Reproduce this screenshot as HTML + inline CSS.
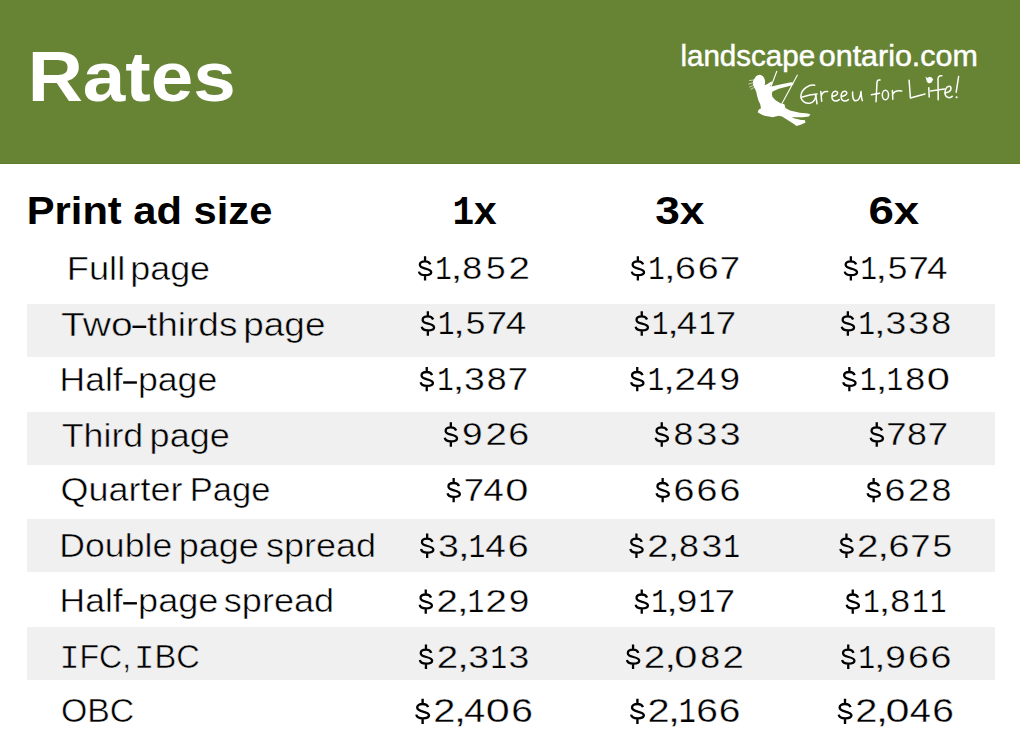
<!DOCTYPE html>
<html><head><meta charset="utf-8"><title>Rates</title>
<style>html,body{margin:0;padding:0;background:#fff;}svg{display:block;}
text{font-family:"Liberation Sans",sans-serif;}</style></head>
<body>
<svg width="1020" height="746" viewBox="0 0 1020 746">
<rect x="0" y="0" width="1020" height="746" fill="#ffffff"/>
<rect x="0" y="0" width="1020" height="164" fill="#678435"/>
<rect x="0" y="163" width="1020" height="1" fill="#5c7b2b"/>
<rect x="27" y="304" width="968" height="53" fill="#f0f0f0"/><rect x="27" y="412" width="968" height="53" fill="#f0f0f0"/><rect x="27" y="519" width="968" height="53" fill="#f0f0f0"/><rect x="27" y="627" width="968" height="53" fill="#f0f0f0"/>
<text transform="translate(27.65 100.90) scale(1.0852 1)" font-size="70.43" font-weight="bold" fill="#ffffff">Rates</text>
<text transform="translate(26.78 223.90) scale(1.0734 1)" font-size="38.84" font-weight="bold" fill="#000000">Print ad size</text>
<text transform="translate(452.48 223.90) scale(0.8852 1)" font-size="38.99" font-weight="bold" fill="#000000"><tspan font-family="Liberation Mono" font-size="1.045em">1</tspan></text>
<text transform="translate(473.89 223.90) scale(1.0450 1)" font-size="38.99" font-weight="bold" fill="#000000">x</text>
<text transform="translate(655.21 223.90) scale(1.1353 1)" font-size="38.99" font-weight="bold" fill="#000000">3x</text>
<text transform="translate(868.47 223.90) scale(1.1712 1)" font-size="38.99" font-weight="bold" fill="#000000">6x</text>
<text transform="translate(66.80 280.30) scale(1.1169 1)" font-size="32.46" font-weight="normal" stroke="#ffffff" stroke-width="0.5" fill="#000000">Full</text>
<text transform="translate(130.19 280.30) scale(1.1066 1)" font-size="32.46" font-weight="normal" stroke="#ffffff" stroke-width="0.5" fill="#000000">page</text>
<text transform="translate(61.12 335.50) scale(1.2026 1)" font-size="32.46" font-weight="normal" stroke="#f0f0f0" stroke-width="0.5" fill="#000000">Two</text>
<text transform="translate(146.96 335.50) scale(1.1406 1)" font-size="32.46" font-weight="normal" stroke="#f0f0f0" stroke-width="0.5" fill="#000000">thirds</text>
<text transform="translate(243.32 335.50) scale(1.1373 1)" font-size="32.46" font-weight="normal" stroke="#f0f0f0" stroke-width="0.5" fill="#000000">page</text>
<text transform="translate(59.56 391.20) scale(1.0926 1)" font-size="32.46" font-weight="normal" stroke="#ffffff" stroke-width="0.5" fill="#000000">Half</text>
<text transform="translate(137.90 391.20) scale(1.0993 1)" font-size="32.46" font-weight="normal" stroke="#ffffff" stroke-width="0.5" fill="#000000">page</text>
<text transform="translate(61.68 446.50) scale(1.1027 1)" font-size="32.46" font-weight="normal" stroke="#f0f0f0" stroke-width="0.5" fill="#000000">Third</text>
<text transform="translate(149.58 446.50) scale(1.1110 1)" font-size="32.46" font-weight="normal" stroke="#f0f0f0" stroke-width="0.5" fill="#000000">page</text>
<text transform="translate(60.60 501.30) scale(1.1087 1)" font-size="32.46" font-weight="normal" stroke="#ffffff" stroke-width="0.5" fill="#000000">Quarter</text>
<text transform="translate(189.74 501.30) scale(1.0635 1)" font-size="32.46" font-weight="normal" stroke="#ffffff" stroke-width="0.5" fill="#000000">Page</text>
<text transform="translate(59.35 557.00) scale(1.0974 1)" font-size="32.46" font-weight="normal" stroke="#f0f0f0" stroke-width="0.5" fill="#000000">Double</text>
<text transform="translate(178.68 557.00) scale(1.1110 1)" font-size="32.46" font-weight="normal" stroke="#f0f0f0" stroke-width="0.5" fill="#000000">page</text>
<text transform="translate(265.92 557.00) scale(1.1093 1)" font-size="32.46" font-weight="normal" stroke="#f0f0f0" stroke-width="0.5" fill="#000000">spread</text>
<text transform="translate(59.56 612.00) scale(1.0926 1)" font-size="32.46" font-weight="normal" stroke="#ffffff" stroke-width="0.5" fill="#000000">Half</text>
<text transform="translate(138.07 612.00) scale(1.1124 1)" font-size="32.46" font-weight="normal" stroke="#ffffff" stroke-width="0.5" fill="#000000">page</text>
<text transform="translate(223.82 612.00) scale(1.1114 1)" font-size="32.46" font-weight="normal" stroke="#ffffff" stroke-width="0.5" fill="#000000">spread</text>
<text transform="translate(59.50 668.10) scale(0.9857 1)" font-size="32.46" font-weight="normal" stroke="#f0f0f0" stroke-width="0.5" fill="#000000"><tspan font-family="Liberation Mono" font-size="1.045em">I</tspan>FC,</text>
<text transform="translate(134.04 668.10) scale(1.0048 1)" font-size="32.46" font-weight="normal" stroke="#f0f0f0" stroke-width="0.5" fill="#000000"><tspan font-family="Liberation Mono" font-size="1.045em">I</tspan>BC</text>
<text transform="translate(61.01 722.30) scale(1.0417 1)" font-size="32.46" font-weight="normal" stroke="#ffffff" stroke-width="0.5" fill="#000000">OBC</text>
<text transform="translate(680.43 66.40) scale(0.9805 1)" font-size="30.14" font-weight="normal" stroke="#ffffff" stroke-width="0.5" fill="#ffffff">landscape</text>
<text transform="translate(818.78 66.40) scale(1.0104 1)" font-size="30.14" font-weight="normal" stroke="#ffffff" stroke-width="0.5" fill="#ffffff">ontario.com</text>
<path transform="translate(424.85 268.40) scale(1.000)" d="M5.5,-4C4.7,-6.2 2.8,-7.1 0.2,-7.1C-2.9,-7.1 -5,-5.6 -5,-3.6C-5,-1.4 -2.8,-0.6 0.5,0.2C4.3,1.1 6.4,2 6.4,3.9C6.4,5.7 3.8,6.8 0.4,6.8C-3,6.8 -5.5,5.4 -5.9,3.2M0.2,-7.1V-12.2M0.2,6.8V12.2" fill="none" stroke="#000000" stroke-width="2.3"/>
<text transform="translate(435.37 279.10) scale(0.8172 1)" font-size="32.06" stroke="#ffffff" stroke-width="0.25" fill="#000000"><tspan font-family="Liberation Mono" font-size="1.045em">1</tspan></text>
<text transform="translate(450.35 279.10) scale(1.4036 1)" font-size="32.06" stroke="#ffffff" stroke-width="0.35" fill="#000000">,</text>
<text transform="translate(462.15 279.10) scale(1.1149 1)" font-size="32.06" stroke="#ffffff" stroke-width="0.35" fill="#000000">8</text>
<text transform="translate(485.91 279.10) scale(1.1017 1)" font-size="32.06" stroke="#ffffff" stroke-width="0.35" fill="#000000">5</text>
<text transform="translate(508.38 279.10) scale(1.2002 1)" font-size="32.06" stroke="#ffffff" stroke-width="0.35" fill="#000000">2</text>
<path transform="translate(637.65 268.40) scale(1.000)" d="M5.5,-4C4.7,-6.2 2.8,-7.1 0.2,-7.1C-2.9,-7.1 -5,-5.6 -5,-3.6C-5,-1.4 -2.8,-0.6 0.5,0.2C4.3,1.1 6.4,2 6.4,3.9C6.4,5.7 3.8,6.8 0.4,6.8C-3,6.8 -5.5,5.4 -5.9,3.2M0.2,-7.1V-12.2M0.2,6.8V12.2" fill="none" stroke="#000000" stroke-width="2.3"/>
<text transform="translate(648.33 279.10) scale(0.8172 1)" font-size="32.06" stroke="#ffffff" stroke-width="0.25" fill="#000000"><tspan font-family="Liberation Mono" font-size="1.045em">1</tspan></text>
<text transform="translate(663.42 279.10) scale(1.4036 1)" font-size="32.06" stroke="#ffffff" stroke-width="0.35" fill="#000000">,</text>
<text transform="translate(674.88 279.10) scale(1.1731 1)" font-size="32.06" stroke="#ffffff" stroke-width="0.35" fill="#000000">6</text>
<text transform="translate(697.69 279.10) scale(1.1731 1)" font-size="32.06" stroke="#ffffff" stroke-width="0.35" fill="#000000">6</text>
<text transform="translate(719.67 279.10) scale(1.1392 1)" font-size="32.06" stroke="#ffffff" stroke-width="0.35" fill="#000000">7</text>
<path transform="translate(850.65 268.40) scale(1.000)" d="M5.5,-4C4.7,-6.2 2.8,-7.1 0.2,-7.1C-2.9,-7.1 -5,-5.6 -5,-3.6C-5,-1.4 -2.8,-0.6 0.5,0.2C4.3,1.1 6.4,2 6.4,3.9C6.4,5.7 3.8,6.8 0.4,6.8C-3,6.8 -5.5,5.4 -5.9,3.2M0.2,-7.1V-12.2M0.2,6.8V12.2" fill="none" stroke="#000000" stroke-width="2.3"/>
<text transform="translate(860.52 279.10) scale(0.8172 1)" font-size="32.06" stroke="#ffffff" stroke-width="0.25" fill="#000000"><tspan font-family="Liberation Mono" font-size="1.045em">1</tspan></text>
<text transform="translate(875.08 279.10) scale(1.4036 1)" font-size="32.06" stroke="#ffffff" stroke-width="0.35" fill="#000000">,</text>
<text transform="translate(887.66 279.10) scale(1.1017 1)" font-size="32.06" stroke="#ffffff" stroke-width="0.35" fill="#000000">5</text>
<text transform="translate(908.42 279.10) scale(1.1392 1)" font-size="32.06" stroke="#ffffff" stroke-width="0.35" fill="#000000">7</text>
<text transform="translate(926.96 279.10) scale(1.1498 1)" font-size="32.06" stroke="#ffffff" stroke-width="0.35" fill="#000000">4</text>
<path transform="translate(427.65 323.50) scale(1.000)" d="M5.5,-4C4.7,-6.2 2.8,-7.1 0.2,-7.1C-2.9,-7.1 -5,-5.6 -5,-3.6C-5,-1.4 -2.8,-0.6 0.5,0.2C4.3,1.1 6.4,2 6.4,3.9C6.4,5.7 3.8,6.8 0.4,6.8C-3,6.8 -5.5,5.4 -5.9,3.2M0.2,-7.1V-12.2M0.2,6.8V12.2" fill="none" stroke="#000000" stroke-width="2.3"/>
<text transform="translate(437.91 334.20) scale(0.8172 1)" font-size="32.06" stroke="#f0f0f0" stroke-width="0.25" fill="#000000"><tspan font-family="Liberation Mono" font-size="1.045em">1</tspan></text>
<text transform="translate(452.72 334.20) scale(1.4036 1)" font-size="32.06" stroke="#f0f0f0" stroke-width="0.35" fill="#000000">,</text>
<text transform="translate(465.63 334.20) scale(1.1017 1)" font-size="32.06" stroke="#f0f0f0" stroke-width="0.35" fill="#000000">5</text>
<text transform="translate(486.84 334.20) scale(1.1392 1)" font-size="32.06" stroke="#f0f0f0" stroke-width="0.35" fill="#000000">7</text>
<text transform="translate(505.76 334.20) scale(1.1498 1)" font-size="32.06" stroke="#f0f0f0" stroke-width="0.35" fill="#000000">4</text>
<path transform="translate(641.55 323.50) scale(1.000)" d="M5.5,-4C4.7,-6.2 2.8,-7.1 0.2,-7.1C-2.9,-7.1 -5,-5.6 -5,-3.6C-5,-1.4 -2.8,-0.6 0.5,0.2C4.3,1.1 6.4,2 6.4,3.9C6.4,5.7 3.8,6.8 0.4,6.8C-3,6.8 -5.5,5.4 -5.9,3.2M0.2,-7.1V-12.2M0.2,6.8V12.2" fill="none" stroke="#000000" stroke-width="2.3"/>
<text transform="translate(651.90 334.20) scale(0.8172 1)" font-size="32.06" stroke="#f0f0f0" stroke-width="0.25" fill="#000000"><tspan font-family="Liberation Mono" font-size="1.045em">1</tspan></text>
<text transform="translate(666.77 334.20) scale(1.4036 1)" font-size="32.06" stroke="#f0f0f0" stroke-width="0.35" fill="#000000">,</text>
<text transform="translate(676.83 334.20) scale(1.1498 1)" font-size="32.06" stroke="#f0f0f0" stroke-width="0.35" fill="#000000">4</text>
<text transform="translate(699.06 334.20) scale(0.8172 1)" font-size="32.06" stroke="#f0f0f0" stroke-width="0.25" fill="#000000"><tspan font-family="Liberation Mono" font-size="1.045em">1</tspan></text>
<text transform="translate(715.77 334.20) scale(1.1392 1)" font-size="32.06" stroke="#f0f0f0" stroke-width="0.35" fill="#000000">7</text>
<path transform="translate(847.65 323.50) scale(1.000)" d="M5.5,-4C4.7,-6.2 2.8,-7.1 0.2,-7.1C-2.9,-7.1 -5,-5.6 -5,-3.6C-5,-1.4 -2.8,-0.6 0.5,0.2C4.3,1.1 6.4,2 6.4,3.9C6.4,5.7 3.8,6.8 0.4,6.8C-3,6.8 -5.5,5.4 -5.9,3.2M0.2,-7.1V-12.2M0.2,6.8V12.2" fill="none" stroke="#000000" stroke-width="2.3"/>
<text transform="translate(858.45 334.20) scale(0.8172 1)" font-size="32.06" stroke="#f0f0f0" stroke-width="0.25" fill="#000000"><tspan font-family="Liberation Mono" font-size="1.045em">1</tspan></text>
<text transform="translate(873.62 334.20) scale(1.4036 1)" font-size="32.06" stroke="#f0f0f0" stroke-width="0.35" fill="#000000">,</text>
<text transform="translate(885.47 334.20) scale(1.1680 1)" font-size="32.06" stroke="#f0f0f0" stroke-width="0.35" fill="#000000">3</text>
<text transform="translate(908.23 334.20) scale(1.1680 1)" font-size="32.06" stroke="#f0f0f0" stroke-width="0.35" fill="#000000">3</text>
<text transform="translate(931.17 334.20) scale(1.1149 1)" font-size="32.06" stroke="#f0f0f0" stroke-width="0.35" fill="#000000">8</text>
<path transform="translate(426.55 379.10) scale(1.000)" d="M5.5,-4C4.7,-6.2 2.8,-7.1 0.2,-7.1C-2.9,-7.1 -5,-5.6 -5,-3.6C-5,-1.4 -2.8,-0.6 0.5,0.2C4.3,1.1 6.4,2 6.4,3.9C6.4,5.7 3.8,6.8 0.4,6.8C-3,6.8 -5.5,5.4 -5.9,3.2M0.2,-7.1V-12.2M0.2,6.8V12.2" fill="none" stroke="#000000" stroke-width="2.3"/>
<text transform="translate(437.17 389.80) scale(0.8172 1)" font-size="32.06" stroke="#ffffff" stroke-width="0.25" fill="#000000"><tspan font-family="Liberation Mono" font-size="1.045em">1</tspan></text>
<text transform="translate(452.21 389.80) scale(1.4036 1)" font-size="32.06" stroke="#ffffff" stroke-width="0.35" fill="#000000">,</text>
<text transform="translate(463.91 389.80) scale(1.1680 1)" font-size="32.06" stroke="#ffffff" stroke-width="0.35" fill="#000000">3</text>
<text transform="translate(486.63 389.80) scale(1.1149 1)" font-size="32.06" stroke="#ffffff" stroke-width="0.35" fill="#000000">8</text>
<text transform="translate(507.87 389.80) scale(1.1392 1)" font-size="32.06" stroke="#ffffff" stroke-width="0.35" fill="#000000">7</text>
<path transform="translate(637.05 379.10) scale(1.000)" d="M5.5,-4C4.7,-6.2 2.8,-7.1 0.2,-7.1C-2.9,-7.1 -5,-5.6 -5,-3.6C-5,-1.4 -2.8,-0.6 0.5,0.2C4.3,1.1 6.4,2 6.4,3.9C6.4,5.7 3.8,6.8 0.4,6.8C-3,6.8 -5.5,5.4 -5.9,3.2M0.2,-7.1V-12.2M0.2,6.8V12.2" fill="none" stroke="#000000" stroke-width="2.3"/>
<text transform="translate(647.75 389.80) scale(0.8172 1)" font-size="32.06" stroke="#ffffff" stroke-width="0.25" fill="#000000"><tspan font-family="Liberation Mono" font-size="1.045em">1</tspan></text>
<text transform="translate(662.85 389.80) scale(1.4036 1)" font-size="32.06" stroke="#ffffff" stroke-width="0.35" fill="#000000">,</text>
<text transform="translate(674.47 389.80) scale(1.2002 1)" font-size="32.06" stroke="#ffffff" stroke-width="0.35" fill="#000000">2</text>
<text transform="translate(696.16 389.80) scale(1.1498 1)" font-size="32.06" stroke="#ffffff" stroke-width="0.35" fill="#000000">4</text>
<text transform="translate(719.45 389.80) scale(1.1527 1)" font-size="32.06" stroke="#ffffff" stroke-width="0.35" fill="#000000">9</text>
<path transform="translate(849.15 379.10) scale(1.000)" d="M5.5,-4C4.7,-6.2 2.8,-7.1 0.2,-7.1C-2.9,-7.1 -5,-5.6 -5,-3.6C-5,-1.4 -2.8,-0.6 0.5,0.2C4.3,1.1 6.4,2 6.4,3.9C6.4,5.7 3.8,6.8 0.4,6.8C-3,6.8 -5.5,5.4 -5.9,3.2M0.2,-7.1V-12.2M0.2,6.8V12.2" fill="none" stroke="#000000" stroke-width="2.3"/>
<text transform="translate(860.05 389.80) scale(0.8172 1)" font-size="32.06" stroke="#ffffff" stroke-width="0.25" fill="#000000"><tspan font-family="Liberation Mono" font-size="1.045em">1</tspan></text>
<text transform="translate(875.28 389.80) scale(1.4036 1)" font-size="32.06" stroke="#ffffff" stroke-width="0.35" fill="#000000">,</text>
<text transform="translate(886.75 389.80) scale(0.8172 1)" font-size="32.06" stroke="#ffffff" stroke-width="0.25" fill="#000000"><tspan font-family="Liberation Mono" font-size="1.045em">1</tspan></text>
<text transform="translate(905.31 389.80) scale(1.1149 1)" font-size="32.06" stroke="#ffffff" stroke-width="0.35" fill="#000000">8</text>
<text transform="translate(926.63 389.80) scale(1.2996 1)" font-size="32.06" stroke="#ffffff" stroke-width="0.35" fill="#000000">0</text>
<path transform="translate(450.65 434.50) scale(1.000)" d="M5.5,-4C4.7,-6.2 2.8,-7.1 0.2,-7.1C-2.9,-7.1 -5,-5.6 -5,-3.6C-5,-1.4 -2.8,-0.6 0.5,0.2C4.3,1.1 6.4,2 6.4,3.9C6.4,5.7 3.8,6.8 0.4,6.8C-3,6.8 -5.5,5.4 -5.9,3.2M0.2,-7.1V-12.2M0.2,6.8V12.2" fill="none" stroke="#000000" stroke-width="2.3"/>
<text transform="translate(462.04 445.20) scale(1.1527 1)" font-size="32.06" stroke="#f0f0f0" stroke-width="0.35" fill="#000000">9</text>
<text transform="translate(485.38 445.20) scale(1.2002 1)" font-size="32.06" stroke="#f0f0f0" stroke-width="0.35" fill="#000000">2</text>
<text transform="translate(508.22 445.20) scale(1.1731 1)" font-size="32.06" stroke="#f0f0f0" stroke-width="0.35" fill="#000000">6</text>
<path transform="translate(661.55 434.50) scale(1.000)" d="M5.5,-4C4.7,-6.2 2.8,-7.1 0.2,-7.1C-2.9,-7.1 -5,-5.6 -5,-3.6C-5,-1.4 -2.8,-0.6 0.5,0.2C4.3,1.1 6.4,2 6.4,3.9C6.4,5.7 3.8,6.8 0.4,6.8C-3,6.8 -5.5,5.4 -5.9,3.2M0.2,-7.1V-12.2M0.2,6.8V12.2" fill="none" stroke="#000000" stroke-width="2.3"/>
<text transform="translate(673.45 445.20) scale(1.1149 1)" font-size="32.06" stroke="#f0f0f0" stroke-width="0.35" fill="#000000">8</text>
<text transform="translate(696.54 445.20) scale(1.1680 1)" font-size="32.06" stroke="#f0f0f0" stroke-width="0.35" fill="#000000">3</text>
<text transform="translate(719.80 445.20) scale(1.1680 1)" font-size="32.06" stroke="#f0f0f0" stroke-width="0.35" fill="#000000">3</text>
<path transform="translate(876.55 434.50) scale(1.000)" d="M5.5,-4C4.7,-6.2 2.8,-7.1 0.2,-7.1C-2.9,-7.1 -5,-5.6 -5,-3.6C-5,-1.4 -2.8,-0.6 0.5,0.2C4.3,1.1 6.4,2 6.4,3.9C6.4,5.7 3.8,6.8 0.4,6.8C-3,6.8 -5.5,5.4 -5.9,3.2M0.2,-7.1V-12.2M0.2,6.8V12.2" fill="none" stroke="#000000" stroke-width="2.3"/>
<text transform="translate(886.23 445.20) scale(1.1392 1)" font-size="32.06" stroke="#f0f0f0" stroke-width="0.35" fill="#000000">7</text>
<text transform="translate(906.89 445.20) scale(1.1149 1)" font-size="32.06" stroke="#f0f0f0" stroke-width="0.35" fill="#000000">8</text>
<text transform="translate(927.87 445.20) scale(1.1392 1)" font-size="32.06" stroke="#f0f0f0" stroke-width="0.35" fill="#000000">7</text>
<path transform="translate(453.45 490.10) scale(1.000)" d="M5.5,-4C4.7,-6.2 2.8,-7.1 0.2,-7.1C-2.9,-7.1 -5,-5.6 -5,-3.6C-5,-1.4 -2.8,-0.6 0.5,0.2C4.3,1.1 6.4,2 6.4,3.9C6.4,5.7 3.8,6.8 0.4,6.8C-3,6.8 -5.5,5.4 -5.9,3.2M0.2,-7.1V-12.2M0.2,6.8V12.2" fill="none" stroke="#000000" stroke-width="2.3"/>
<text transform="translate(463.73 500.80) scale(1.1392 1)" font-size="32.06" stroke="#ffffff" stroke-width="0.35" fill="#000000">7</text>
<text transform="translate(483.36 500.80) scale(1.1498 1)" font-size="32.06" stroke="#ffffff" stroke-width="0.35" fill="#000000">4</text>
<text transform="translate(505.33 500.80) scale(1.2996 1)" font-size="32.06" stroke="#ffffff" stroke-width="0.35" fill="#000000">0</text>
<path transform="translate(662.45 490.10) scale(1.000)" d="M5.5,-4C4.7,-6.2 2.8,-7.1 0.2,-7.1C-2.9,-7.1 -5,-5.6 -5,-3.6C-5,-1.4 -2.8,-0.6 0.5,0.2C4.3,1.1 6.4,2 6.4,3.9C6.4,5.7 3.8,6.8 0.4,6.8C-3,6.8 -5.5,5.4 -5.9,3.2M0.2,-7.1V-12.2M0.2,6.8V12.2" fill="none" stroke="#000000" stroke-width="2.3"/>
<text transform="translate(673.47 500.80) scale(1.1731 1)" font-size="32.06" stroke="#ffffff" stroke-width="0.35" fill="#000000">6</text>
<text transform="translate(696.49 500.80) scale(1.1731 1)" font-size="32.06" stroke="#ffffff" stroke-width="0.35" fill="#000000">6</text>
<text transform="translate(719.52 500.80) scale(1.1731 1)" font-size="32.06" stroke="#ffffff" stroke-width="0.35" fill="#000000">6</text>
<path transform="translate(873.45 490.10) scale(1.000)" d="M5.5,-4C4.7,-6.2 2.8,-7.1 0.2,-7.1C-2.9,-7.1 -5,-5.6 -5,-3.6C-5,-1.4 -2.8,-0.6 0.5,0.2C4.3,1.1 6.4,2 6.4,3.9C6.4,5.7 3.8,6.8 0.4,6.8C-3,6.8 -5.5,5.4 -5.9,3.2M0.2,-7.1V-12.2M0.2,6.8V12.2" fill="none" stroke="#000000" stroke-width="2.3"/>
<text transform="translate(884.60 500.80) scale(1.1731 1)" font-size="32.06" stroke="#ffffff" stroke-width="0.35" fill="#000000">6</text>
<text transform="translate(907.92 500.80) scale(1.2002 1)" font-size="32.06" stroke="#ffffff" stroke-width="0.35" fill="#000000">2</text>
<text transform="translate(931.57 500.80) scale(1.1149 1)" font-size="32.06" stroke="#ffffff" stroke-width="0.35" fill="#000000">8</text>
<path transform="translate(426.95 545.80) scale(1.000)" d="M5.5,-4C4.7,-6.2 2.8,-7.1 0.2,-7.1C-2.9,-7.1 -5,-5.6 -5,-3.6C-5,-1.4 -2.8,-0.6 0.5,0.2C4.3,1.1 6.4,2 6.4,3.9C6.4,5.7 3.8,6.8 0.4,6.8C-3,6.8 -5.5,5.4 -5.9,3.2M0.2,-7.1V-12.2M0.2,6.8V12.2" fill="none" stroke="#000000" stroke-width="2.3"/>
<text transform="translate(437.94 556.50) scale(1.1680 1)" font-size="32.06" stroke="#f0f0f0" stroke-width="0.35" fill="#000000">3</text>
<text transform="translate(457.39 556.50) scale(1.4036 1)" font-size="32.06" stroke="#f0f0f0" stroke-width="0.35" fill="#000000">,</text>
<text transform="translate(468.63 556.50) scale(0.8172 1)" font-size="32.06" stroke="#f0f0f0" stroke-width="0.25" fill="#000000"><tspan font-family="Liberation Mono" font-size="1.045em">1</tspan></text>
<text transform="translate(485.24 556.50) scale(1.1498 1)" font-size="32.06" stroke="#f0f0f0" stroke-width="0.35" fill="#000000">4</text>
<text transform="translate(507.82 556.50) scale(1.1731 1)" font-size="32.06" stroke="#f0f0f0" stroke-width="0.35" fill="#000000">6</text>
<path transform="translate(636.25 545.80) scale(1.000)" d="M5.5,-4C4.7,-6.2 2.8,-7.1 0.2,-7.1C-2.9,-7.1 -5,-5.6 -5,-3.6C-5,-1.4 -2.8,-0.6 0.5,0.2C4.3,1.1 6.4,2 6.4,3.9C6.4,5.7 3.8,6.8 0.4,6.8C-3,6.8 -5.5,5.4 -5.9,3.2M0.2,-7.1V-12.2M0.2,6.8V12.2" fill="none" stroke="#000000" stroke-width="2.3"/>
<text transform="translate(647.15 556.50) scale(1.2002 1)" font-size="32.06" stroke="#f0f0f0" stroke-width="0.35" fill="#000000">2</text>
<text transform="translate(667.14 556.50) scale(1.4036 1)" font-size="32.06" stroke="#f0f0f0" stroke-width="0.35" fill="#000000">,</text>
<text transform="translate(679.02 556.50) scale(1.1149 1)" font-size="32.06" stroke="#f0f0f0" stroke-width="0.35" fill="#000000">8</text>
<text transform="translate(701.39 556.50) scale(1.1680 1)" font-size="32.06" stroke="#f0f0f0" stroke-width="0.35" fill="#000000">3</text>
<text transform="translate(723.50 556.50) scale(0.8172 1)" font-size="32.06" stroke="#f0f0f0" stroke-width="0.25" fill="#000000"><tspan font-family="Liberation Mono" font-size="1.045em">1</tspan></text>
<path transform="translate(846.25 545.80) scale(1.000)" d="M5.5,-4C4.7,-6.2 2.8,-7.1 0.2,-7.1C-2.9,-7.1 -5,-5.6 -5,-3.6C-5,-1.4 -2.8,-0.6 0.5,0.2C4.3,1.1 6.4,2 6.4,3.9C6.4,5.7 3.8,6.8 0.4,6.8C-3,6.8 -5.5,5.4 -5.9,3.2M0.2,-7.1V-12.2M0.2,6.8V12.2" fill="none" stroke="#000000" stroke-width="2.3"/>
<text transform="translate(857.10 556.50) scale(1.2002 1)" font-size="32.06" stroke="#f0f0f0" stroke-width="0.35" fill="#000000">2</text>
<text transform="translate(877.06 556.50) scale(1.4036 1)" font-size="32.06" stroke="#f0f0f0" stroke-width="0.35" fill="#000000">,</text>
<text transform="translate(888.43 556.50) scale(1.1731 1)" font-size="32.06" stroke="#f0f0f0" stroke-width="0.35" fill="#000000">6</text>
<text transform="translate(910.29 556.50) scale(1.1392 1)" font-size="32.06" stroke="#f0f0f0" stroke-width="0.35" fill="#000000">7</text>
<text transform="translate(932.49 556.50) scale(1.1017 1)" font-size="32.06" stroke="#f0f0f0" stroke-width="0.35" fill="#000000">5</text>
<path transform="translate(425.55 601.60) scale(1.000)" d="M5.5,-4C4.7,-6.2 2.8,-7.1 0.2,-7.1C-2.9,-7.1 -5,-5.6 -5,-3.6C-5,-1.4 -2.8,-0.6 0.5,0.2C4.3,1.1 6.4,2 6.4,3.9C6.4,5.7 3.8,6.8 0.4,6.8C-3,6.8 -5.5,5.4 -5.9,3.2M0.2,-7.1V-12.2M0.2,6.8V12.2" fill="none" stroke="#000000" stroke-width="2.3"/>
<text transform="translate(436.43 612.30) scale(1.2002 1)" font-size="32.06" stroke="#ffffff" stroke-width="0.35" fill="#000000">2</text>
<text transform="translate(456.40 612.30) scale(1.4036 1)" font-size="32.06" stroke="#ffffff" stroke-width="0.35" fill="#000000">,</text>
<text transform="translate(467.66 612.30) scale(0.8172 1)" font-size="32.06" stroke="#ffffff" stroke-width="0.25" fill="#000000"><tspan font-family="Liberation Mono" font-size="1.045em">1</tspan></text>
<text transform="translate(485.59 612.30) scale(1.2002 1)" font-size="32.06" stroke="#ffffff" stroke-width="0.35" fill="#000000">2</text>
<text transform="translate(508.85 612.30) scale(1.1527 1)" font-size="32.06" stroke="#ffffff" stroke-width="0.35" fill="#000000">9</text>
<path transform="translate(641.55 601.60) scale(1.000)" d="M5.5,-4C4.7,-6.2 2.8,-7.1 0.2,-7.1C-2.9,-7.1 -5,-5.6 -5,-3.6C-5,-1.4 -2.8,-0.6 0.5,0.2C4.3,1.1 6.4,2 6.4,3.9C6.4,5.7 3.8,6.8 0.4,6.8C-3,6.8 -5.5,5.4 -5.9,3.2M0.2,-7.1V-12.2M0.2,6.8V12.2" fill="none" stroke="#000000" stroke-width="2.3"/>
<text transform="translate(651.24 612.30) scale(0.8172 1)" font-size="32.06" stroke="#ffffff" stroke-width="0.25" fill="#000000"><tspan font-family="Liberation Mono" font-size="1.045em">1</tspan></text>
<text transform="translate(665.68 612.30) scale(1.4036 1)" font-size="32.06" stroke="#ffffff" stroke-width="0.35" fill="#000000">,</text>
<text transform="translate(676.86 612.30) scale(1.1527 1)" font-size="32.06" stroke="#ffffff" stroke-width="0.35" fill="#000000">9</text>
<text transform="translate(698.79 612.30) scale(0.8172 1)" font-size="32.06" stroke="#ffffff" stroke-width="0.25" fill="#000000"><tspan font-family="Liberation Mono" font-size="1.045em">1</tspan></text>
<text transform="translate(714.87 612.30) scale(1.1392 1)" font-size="32.06" stroke="#ffffff" stroke-width="0.35" fill="#000000">7</text>
<path transform="translate(852.55 601.60) scale(1.000)" d="M5.5,-4C4.7,-6.2 2.8,-7.1 0.2,-7.1C-2.9,-7.1 -5,-5.6 -5,-3.6C-5,-1.4 -2.8,-0.6 0.5,0.2C4.3,1.1 6.4,2 6.4,3.9C6.4,5.7 3.8,6.8 0.4,6.8C-3,6.8 -5.5,5.4 -5.9,3.2M0.2,-7.1V-12.2M0.2,6.8V12.2" fill="none" stroke="#000000" stroke-width="2.3"/>
<text transform="translate(863.26 612.30) scale(0.8172 1)" font-size="32.06" stroke="#ffffff" stroke-width="0.25" fill="#000000"><tspan font-family="Liberation Mono" font-size="1.045em">1</tspan></text>
<text transform="translate(878.36 612.30) scale(1.4036 1)" font-size="32.06" stroke="#ffffff" stroke-width="0.35" fill="#000000">,</text>
<text transform="translate(890.32 612.30) scale(1.1149 1)" font-size="32.06" stroke="#ffffff" stroke-width="0.35" fill="#000000">8</text>
<text transform="translate(912.35 612.30) scale(0.8172 1)" font-size="32.06" stroke="#ffffff" stroke-width="0.25" fill="#000000"><tspan font-family="Liberation Mono" font-size="1.045em">1</tspan></text>
<text transform="translate(930.10 612.30) scale(0.8172 1)" font-size="32.06" stroke="#ffffff" stroke-width="0.25" fill="#000000"><tspan font-family="Liberation Mono" font-size="1.045em">1</tspan></text>
<path transform="translate(425.75 656.80) scale(1.000)" d="M5.5,-4C4.7,-6.2 2.8,-7.1 0.2,-7.1C-2.9,-7.1 -5,-5.6 -5,-3.6C-5,-1.4 -2.8,-0.6 0.5,0.2C4.3,1.1 6.4,2 6.4,3.9C6.4,5.7 3.8,6.8 0.4,6.8C-3,6.8 -5.5,5.4 -5.9,3.2M0.2,-7.1V-12.2M0.2,6.8V12.2" fill="none" stroke="#000000" stroke-width="2.3"/>
<text transform="translate(436.66 667.50) scale(1.2002 1)" font-size="32.06" stroke="#f0f0f0" stroke-width="0.35" fill="#000000">2</text>
<text transform="translate(456.66 667.50) scale(1.4036 1)" font-size="32.06" stroke="#f0f0f0" stroke-width="0.35" fill="#000000">,</text>
<text transform="translate(468.37 667.50) scale(1.1680 1)" font-size="32.06" stroke="#f0f0f0" stroke-width="0.35" fill="#000000">3</text>
<text transform="translate(490.49 667.50) scale(0.8172 1)" font-size="32.06" stroke="#f0f0f0" stroke-width="0.25" fill="#000000"><tspan font-family="Liberation Mono" font-size="1.045em">1</tspan></text>
<text transform="translate(508.60 667.50) scale(1.1680 1)" font-size="32.06" stroke="#f0f0f0" stroke-width="0.35" fill="#000000">3</text>
<path transform="translate(632.85 656.80) scale(1.000)" d="M5.5,-4C4.7,-6.2 2.8,-7.1 0.2,-7.1C-2.9,-7.1 -5,-5.6 -5,-3.6C-5,-1.4 -2.8,-0.6 0.5,0.2C4.3,1.1 6.4,2 6.4,3.9C6.4,5.7 3.8,6.8 0.4,6.8C-3,6.8 -5.5,5.4 -5.9,3.2M0.2,-7.1V-12.2M0.2,6.8V12.2" fill="none" stroke="#000000" stroke-width="2.3"/>
<text transform="translate(643.87 667.50) scale(1.2002 1)" font-size="32.06" stroke="#f0f0f0" stroke-width="0.35" fill="#000000">2</text>
<text transform="translate(663.95 667.50) scale(1.4036 1)" font-size="32.06" stroke="#f0f0f0" stroke-width="0.35" fill="#000000">,</text>
<text transform="translate(674.37 667.50) scale(1.2996 1)" font-size="32.06" stroke="#f0f0f0" stroke-width="0.35" fill="#000000">0</text>
<text transform="translate(700.23 667.50) scale(1.1149 1)" font-size="32.06" stroke="#f0f0f0" stroke-width="0.35" fill="#000000">8</text>
<text transform="translate(722.58 667.50) scale(1.2002 1)" font-size="32.06" stroke="#f0f0f0" stroke-width="0.35" fill="#000000">2</text>
<path transform="translate(848.05 656.80) scale(1.000)" d="M5.5,-4C4.7,-6.2 2.8,-7.1 0.2,-7.1C-2.9,-7.1 -5,-5.6 -5,-3.6C-5,-1.4 -2.8,-0.6 0.5,0.2C4.3,1.1 6.4,2 6.4,3.9C6.4,5.7 3.8,6.8 0.4,6.8C-3,6.8 -5.5,5.4 -5.9,3.2M0.2,-7.1V-12.2M0.2,6.8V12.2" fill="none" stroke="#000000" stroke-width="2.3"/>
<text transform="translate(858.49 667.50) scale(0.8172 1)" font-size="32.06" stroke="#f0f0f0" stroke-width="0.25" fill="#000000"><tspan font-family="Liberation Mono" font-size="1.045em">1</tspan></text>
<text transform="translate(873.42 667.50) scale(1.4036 1)" font-size="32.06" stroke="#f0f0f0" stroke-width="0.35" fill="#000000">,</text>
<text transform="translate(885.23 667.50) scale(1.1527 1)" font-size="32.06" stroke="#f0f0f0" stroke-width="0.35" fill="#000000">9</text>
<text transform="translate(908.09 667.50) scale(1.1731 1)" font-size="32.06" stroke="#f0f0f0" stroke-width="0.35" fill="#000000">6</text>
<text transform="translate(930.62 667.50) scale(1.1731 1)" font-size="32.06" stroke="#f0f0f0" stroke-width="0.35" fill="#000000">6</text>
<path transform="translate(422.41 711.33) scale(1.035)" d="M5.5,-4C4.7,-6.2 2.8,-7.1 0.2,-7.1C-2.9,-7.1 -5,-5.6 -5,-3.6C-5,-1.4 -2.8,-0.6 0.5,0.2C4.3,1.1 6.4,2 6.4,3.9C6.4,5.7 3.8,6.8 0.4,6.8C-3,6.8 -5.5,5.4 -5.9,3.2M0.2,-7.1V-12.2M0.2,6.8V12.2" fill="none" stroke="#000000" stroke-width="2.3"/>
<text transform="translate(433.23 722.40) scale(1.2002 1)" font-size="33.18" stroke="#ffffff" stroke-width="0.35" fill="#000000">2</text>
<text transform="translate(453.59 722.40) scale(1.4036 1)" font-size="33.18" stroke="#ffffff" stroke-width="0.35" fill="#000000">,</text>
<text transform="translate(463.91 722.40) scale(1.1498 1)" font-size="33.18" stroke="#ffffff" stroke-width="0.35" fill="#000000">4</text>
<text transform="translate(485.74 722.40) scale(1.2996 1)" font-size="33.18" stroke="#ffffff" stroke-width="0.35" fill="#000000">0</text>
<text transform="translate(511.35 722.40) scale(1.1731 1)" font-size="33.18" stroke="#ffffff" stroke-width="0.35" fill="#000000">6</text>
<path transform="translate(637.21 711.33) scale(1.035)" d="M5.5,-4C4.7,-6.2 2.8,-7.1 0.2,-7.1C-2.9,-7.1 -5,-5.6 -5,-3.6C-5,-1.4 -2.8,-0.6 0.5,0.2C4.3,1.1 6.4,2 6.4,3.9C6.4,5.7 3.8,6.8 0.4,6.8C-3,6.8 -5.5,5.4 -5.9,3.2M0.2,-7.1V-12.2M0.2,6.8V12.2" fill="none" stroke="#000000" stroke-width="2.3"/>
<text transform="translate(647.57 722.40) scale(1.2002 1)" font-size="33.18" stroke="#ffffff" stroke-width="0.35" fill="#000000">2</text>
<text transform="translate(667.60 722.40) scale(1.4036 1)" font-size="33.18" stroke="#ffffff" stroke-width="0.35" fill="#000000">,</text>
<text transform="translate(678.69 722.40) scale(0.8172 1)" font-size="33.18" stroke="#ffffff" stroke-width="0.25" fill="#000000"><tspan font-family="Liberation Mono" font-size="1.045em">1</tspan></text>
<text transform="translate(696.28 722.40) scale(1.1731 1)" font-size="33.18" stroke="#ffffff" stroke-width="0.35" fill="#000000">6</text>
<text transform="translate(718.85 722.40) scale(1.1731 1)" font-size="33.18" stroke="#ffffff" stroke-width="0.35" fill="#000000">6</text>
<path transform="translate(844.81 711.33) scale(1.035)" d="M5.5,-4C4.7,-6.2 2.8,-7.1 0.2,-7.1C-2.9,-7.1 -5,-5.6 -5,-3.6C-5,-1.4 -2.8,-0.6 0.5,0.2C4.3,1.1 6.4,2 6.4,3.9C6.4,5.7 3.8,6.8 0.4,6.8C-3,6.8 -5.5,5.4 -5.9,3.2M0.2,-7.1V-12.2M0.2,6.8V12.2" fill="none" stroke="#000000" stroke-width="2.3"/>
<text transform="translate(855.32 722.40) scale(1.2002 1)" font-size="33.18" stroke="#ffffff" stroke-width="0.35" fill="#000000">2</text>
<text transform="translate(875.46 722.40) scale(1.4036 1)" font-size="33.18" stroke="#ffffff" stroke-width="0.35" fill="#000000">,</text>
<text transform="translate(885.59 722.40) scale(1.2996 1)" font-size="33.18" stroke="#ffffff" stroke-width="0.35" fill="#000000">0</text>
<text transform="translate(909.73 722.40) scale(1.1498 1)" font-size="33.18" stroke="#ffffff" stroke-width="0.35" fill="#000000">4</text>
<text transform="translate(932.35 722.40) scale(1.1731 1)" font-size="33.18" stroke="#ffffff" stroke-width="0.35" fill="#000000">6</text>
<rect x="132.5" y="325.60" width="13.70" height="2.4" fill="#000000"/><rect x="123.2" y="381.30" width="13.70" height="2.4" fill="#000000"/><rect x="123.2" y="602.10" width="13.70" height="2.4" fill="#000000"/>
<g fill="#ffffff" stroke="none">
<path d="M759.5,74.8 C762.5,75 764.6,77.5 765.1,81.5 L765,83.5 L764.6,85.2 L767.5,84 L770,82.2 L771.6,81.4 L772.9,82.6 L771.2,84.6 L769.6,86.2 L771.6,86.6 L781.2,84.3 L790,82.6 L792.6,82.2 L793.5,84.2 L791.5,85.6 L788.4,86.3 L778.8,88.7 L772.6,91.5 L771.8,93.7 L772.5,97 L775.6,100.2 L780.4,103.3 L784.4,104.2 L785.4,108 L790,110.4 L799.7,112.7 L807.8,113.5 L810.4,114.2 L808.8,116.4 L802.9,117.3 L796.5,117.3 L791.5,117 L795,118.6 L801.3,120 L804.6,120 L805.6,122.6 L801.3,124.4 L796.5,126 L794.6,124.6 L788.4,120.6 L782,116.6 L778.8,115.8 L772.4,117.3 L769.1,116.6 L764.3,115.8 L757.8,112.4 L758.6,109.8 L761,108.2 L760.2,104.2 L758.6,101 L757,95.4 L756.2,91.4 L754.6,88.2 L753,84.2 C752.8,81 753.6,79 754.7,78.4 C755.5,76.5 757,75.2 759.5,74.8 Z"/>
</g>
<g fill="none" stroke="#ffffff" stroke-linecap="round">
<path d="M776.8,71.2 L770.7,87.3" stroke-width="1.1"/>
<path d="M797.3,75.2 L782,103.6" stroke-width="1.1"/>
<path d="M754,80 L749.5,80.5 M754,82.5 L748.8,84 M754.5,85 L749.5,87 M755,87 L750.8,89.2" stroke-width="0.8" opacity="0.75"/>
</g>
<g fill="none" stroke="#ffffff" stroke-width="1.5" stroke-linecap="round" stroke-linejoin="round">
<path d="M814.6,85.3 C810,84.3 801.5,88.5 800.9,95.8 C800.6,100.8 805.5,103.6 809.8,103.2 C813,102.8 815.4,100 815.8,95.5"/>
<path d="M802.6,97 C807,95.6 812,94.6 817,94.1 M815.8,95.3 L817,103.8"/>
<path d="M820.8,91.4 L821.7,101.2 M821.5,95.2 C822.5,92.6 824.6,91 827.6,91.6"/>
<path d="M832,96.5 C835,96 838,94.6 837.6,92.6 C837.1,90.6 833.6,90.6 832.6,93 C831.2,96 831.6,100.5 835,101 C837,101.2 838.5,100.2 839.2,99.6"/>
<path d="M841.2,96.5 C844.2,96 847.2,94.6 846.8,92.6 C846.3,90.6 842.8,90.6 841.8,93 C840.4,96 840.8,100.5 844.2,101 C846.2,101.2 847.7,100.2 848.4,99.6"/>
<path d="M852.6,92 C852.5,96 852.8,101 856,100.8 C859,100.5 860.5,96 861,91.5 C861.2,95 861.6,99 862.4,100.6"/>
<path d="M876,101.7 L877,82.4 C877.3,80.2 878.6,79.6 880,80 M871.4,94.7 L879.6,93.2"/>
<ellipse cx="885.4" cy="95" rx="3.1" ry="4.8"/>
<path d="M892.4,90.5 L892.8,99.3 M892.8,94.2 C894,91.6 896,90 901.7,91"/>
<path d="M909.1,80.2 L910.4,98 L925,94"/>
<path d="M928.8,87.8 L929.2,97"/>
<path d="M938.2,99.8 L938,78.6 C938.4,76.4 940,75.4 941.8,75.8 M930.6,91 L944.5,89"/>
<path d="M944.6,93 C947.5,92.6 951,91 951,88.5 C951,85.6 947.5,85.6 946,88.5 C944.2,92 944.6,97 948.5,97.6 C950.2,97.8 951.6,97 952.2,96.4"/>
<path d="M958.6,76.5 L956.2,92.2"/>
</g>
<g fill="#ffffff"><circle cx="956.6" cy="97.2" r="1"/>
<path d="M925.4,76.5 L927.4,78 L929.5,76.8 L931.8,77.6 L933.2,79.6 L931.5,82.5 L929,83.5 L927,82 Z"/></g>

</svg>
</body></html>
